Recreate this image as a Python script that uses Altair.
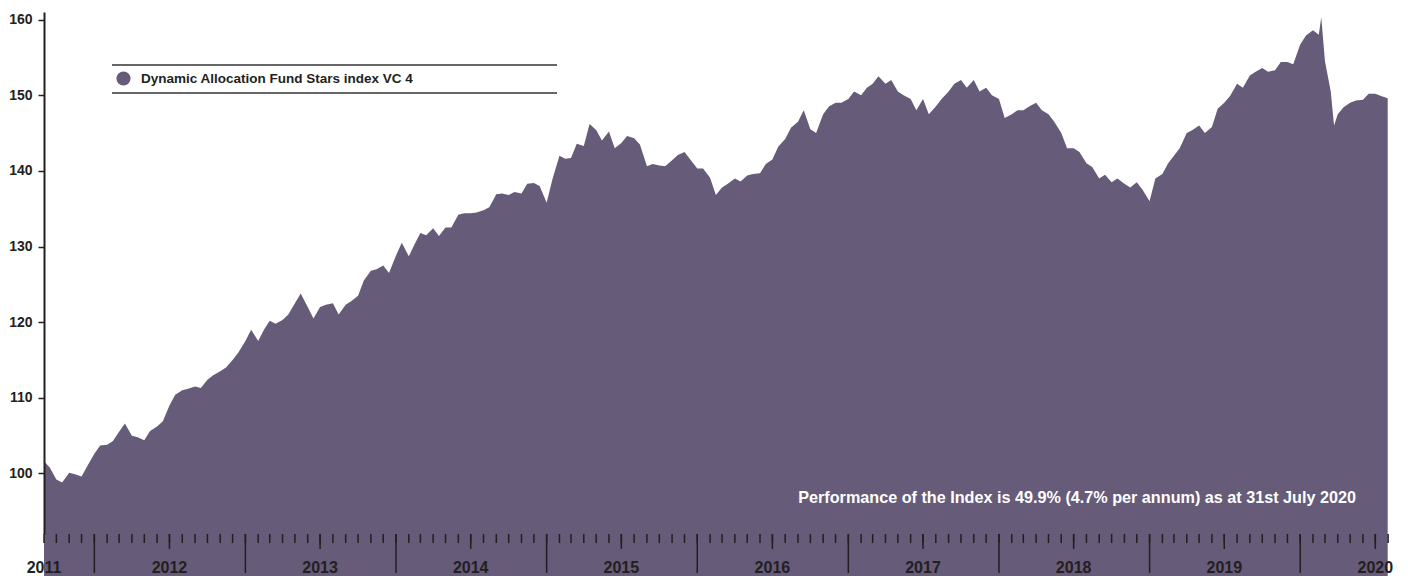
import altair as alt
import pandas as pd

SERIES_NAME = "Dynamic Allocation Fund Stars index VC 4"
NOTE = "Performance of the Index is 49.9% (4.7% per annum) as at 31st July 2020"

# semi-monthly readings (1st and 15th of each month) from 2011-09-01
START = "2011-09-01"
values = [
    101.6, 100.8, 99.2, 98.8, 100.1, 99.9, 99.6, 101.0, 102.6, 103.7,
    103.8, 104.3, 105.5, 106.6, 105.0, 104.8, 104.4, 105.6, 106.2, 106.9,
    109.0, 110.4, 111.0, 111.2, 111.5, 111.3, 112.4, 113.0, 113.5, 114.0,
    115.0, 116.0, 117.5, 119.0, 117.5, 119.0, 120.2, 119.8, 120.3, 121.0,
    122.5, 123.8, 122.0, 120.5, 122.0, 122.3, 122.5, 121.0, 122.3, 122.8,
    123.5, 125.5, 126.8, 127.0, 127.5, 126.5, 128.8, 130.5, 128.7, 130.3,
    131.8, 131.5, 132.4, 131.4, 132.5, 132.5, 134.2, 134.4, 134.4, 134.5,
    134.8, 135.2, 136.9, 137.0, 136.8, 137.2, 137.0, 138.3, 138.4, 138.0,
    135.8, 138.9, 142.0, 141.6, 141.7, 143.6, 143.3, 146.2, 145.4, 144.0,
    145.2, 143.0, 143.7, 144.6, 144.3, 143.5, 140.6, 140.9, 140.7, 140.6,
    141.4, 142.1, 142.5, 141.5, 140.3, 140.3, 139.1, 136.8, 137.8, 138.3,
    139.0, 138.6, 139.4, 139.6, 139.7, 140.9, 141.5, 143.2, 144.2, 145.7,
    146.5, 148.0, 145.5, 145.0, 147.5, 148.5, 149.0, 149.0, 149.5, 150.5,
    150.0, 151.0, 151.5, 152.5, 151.5, 152.0, 150.5, 150.0, 149.5, 148.0,
    149.5, 147.5, 148.5, 149.5, 150.5, 151.5, 152.0, 151.0, 152.0, 150.5,
    151.0, 150.0, 149.5, 147.0, 147.5, 148.0, 148.0, 148.5, 149.0, 148.0,
    147.5, 146.5, 145.0, 143.0, 143.0, 142.5, 141.0, 140.5, 139.0, 139.5,
    138.5, 139.0, 138.3, 137.8, 138.5, 137.5, 136.0, 139.0, 139.6, 141.0,
    142.0, 143.0, 145.0, 145.4, 146.0, 145.0, 145.8, 148.2, 149.0, 149.9,
    151.5, 151.0, 152.6, 153.1, 153.6, 153.1, 153.3, 154.4, 154.4, 154.1,
    156.7, 157.9, 158.6, 158.0, 154.5, 150.5, 147.5, 148.4, 149.0, 149.3,
    149.4, 150.2, 150.2, 149.9,
]
extra_dates = ["2020-02-21", "2020-03-23", "2020-07-31"]
extra_values = [160.3, 146.0, 149.6]

year_labels = ["2011", "2012", "2013", "2014", "2015", "2016", "2017", "2018", "2019", "2020"]
year_label_dates = ["2011-09-01", "2012-07-01", "2013-07-01", "2014-07-01", "2015-07-01",
                    "2016-07-01", "2017-07-01", "2018-07-01", "2019-07-01", "2020-07-01"]
year_start_dates = ["2012-01-01", "2013-01-01", "2014-01-01", "2015-01-01", "2016-01-01",
                    "2017-01-01", "2018-01-01", "2019-01-01", "2020-01-01"]
mid_year_dates = ["2012-07-01", "2013-07-01", "2014-07-01", "2015-07-01", "2016-07-01",
                  "2017-07-01", "2018-07-01", "2019-07-01", "2020-07-01"]
y_ticks = [100, 110, 120, 130, 140, 150, 160]

FONT = "Liberation Sans, Arial, sans-serif"
AREA = "#665b78"
INK = "#231f20"
W, H = 1347, 522

dates = pd.date_range(START, periods=len(values), freq="SMS")
df = pd.DataFrame({"date": dates, "value": values})
df = pd.concat([df, pd.DataFrame({"date": pd.to_datetime(extra_dates), "value": extra_values})])
df = df.sort_values("date").reset_index(drop=True)
df["series"] = SERIES_NAME

months = pd.date_range("2011-09-01", "2020-08-01", freq="MS")
month_df = pd.DataFrame({"d": months})

xscale = alt.Scale(domain=[alt.DateTime(year=2011, month=9, date=1),
                           alt.DateTime(year=2020, month=8, date=8)])
yscale = alt.Scale(domain=[92, 161], nice=False, zero=False)

area = alt.Chart(df).mark_area(interpolate="linear").encode(
    x=alt.X("date:T", scale=xscale, title=None,
            axis=alt.Axis(labels=False, ticks=False, domainColor=INK, domainWidth=2,
                          grid=False, zindex=2)),
    y=alt.Y("value:Q", scale=yscale, title=None,
            axis=alt.Axis(values=y_ticks, tickSize=6, tickWidth=1.5, tickColor=INK,
                          domainColor=INK, domainWidth=2, grid=False, labelFont=FONT,
                          labelFontSize=14, labelFontWeight="bold", labelColor=INK,
                          labelPadding=6, zindex=2)),
    color=alt.Color("series:N", scale=alt.Scale(range=[AREA]),
                    legend=alt.Legend(orient="none", legendX=72, legendY=59, title=None,
                                      symbolType="circle", symbolSize=200,
                                      symbolStrokeWidth=0, labelFont=FONT,
                                      labelFontSize=13.5, labelFontWeight="bold",
                                      labelColor=INK, labelOffset=10, padding=0,
                                      labelLimit=0)),
)

def tick_layer(frame, length):
    return alt.Chart(frame).mark_rule(color=INK, strokeWidth=1.5).encode(
        x=alt.X("d:T", scale=xscale, axis=None), y=alt.value(H), y2=alt.value(H + length))

month_ticks = tick_layer(month_df, 9)
mid_ticks = tick_layer(pd.DataFrame({"d": pd.to_datetime(mid_year_dates)}), 15)
yr_ticks = tick_layer(pd.DataFrame({"d": pd.to_datetime(year_start_dates)}), 39)

lab_df = pd.DataFrame({"d": pd.to_datetime(year_label_dates), "label": year_labels})
year_text = alt.Chart(lab_df).mark_text(font=FONT, fontSize=16, fontWeight="bold",
                                        color=INK, baseline="alphabetic", align="center").encode(
    x=alt.X("d:T", scale=xscale, axis=None), y=alt.value(H + 39), text="label:N")

def legend_line(ypix):
    return alt.Chart(pd.DataFrame({"k": [0]})).mark_rule(
        color="#333333", strokeWidth=1.5).encode(
        x=alt.value(68), x2=alt.value(513), y=alt.value(ypix))

note = alt.Chart(pd.DataFrame({"t": [NOTE]})).mark_text(
    font=FONT, fontSize=16.2, fontWeight="bold", color="white", align="right",
    baseline="alphabetic").encode(x=alt.value(1312), y=alt.value(491), text="t:N")

chart = alt.layer(area, month_ticks, mid_ticks, yr_ticks, year_text,
                  legend_line(53), legend_line(81), note).properties(
    width=W, height=H,
    background="white",
    autosize=alt.AutoSizeParams(type="none"),
    padding={"left": 36, "top": 4, "right": 9, "bottom": 42},
).configure_view(stroke=None)

chart.save("out.html", embed_options={"renderer": "svg", "actions": False})
